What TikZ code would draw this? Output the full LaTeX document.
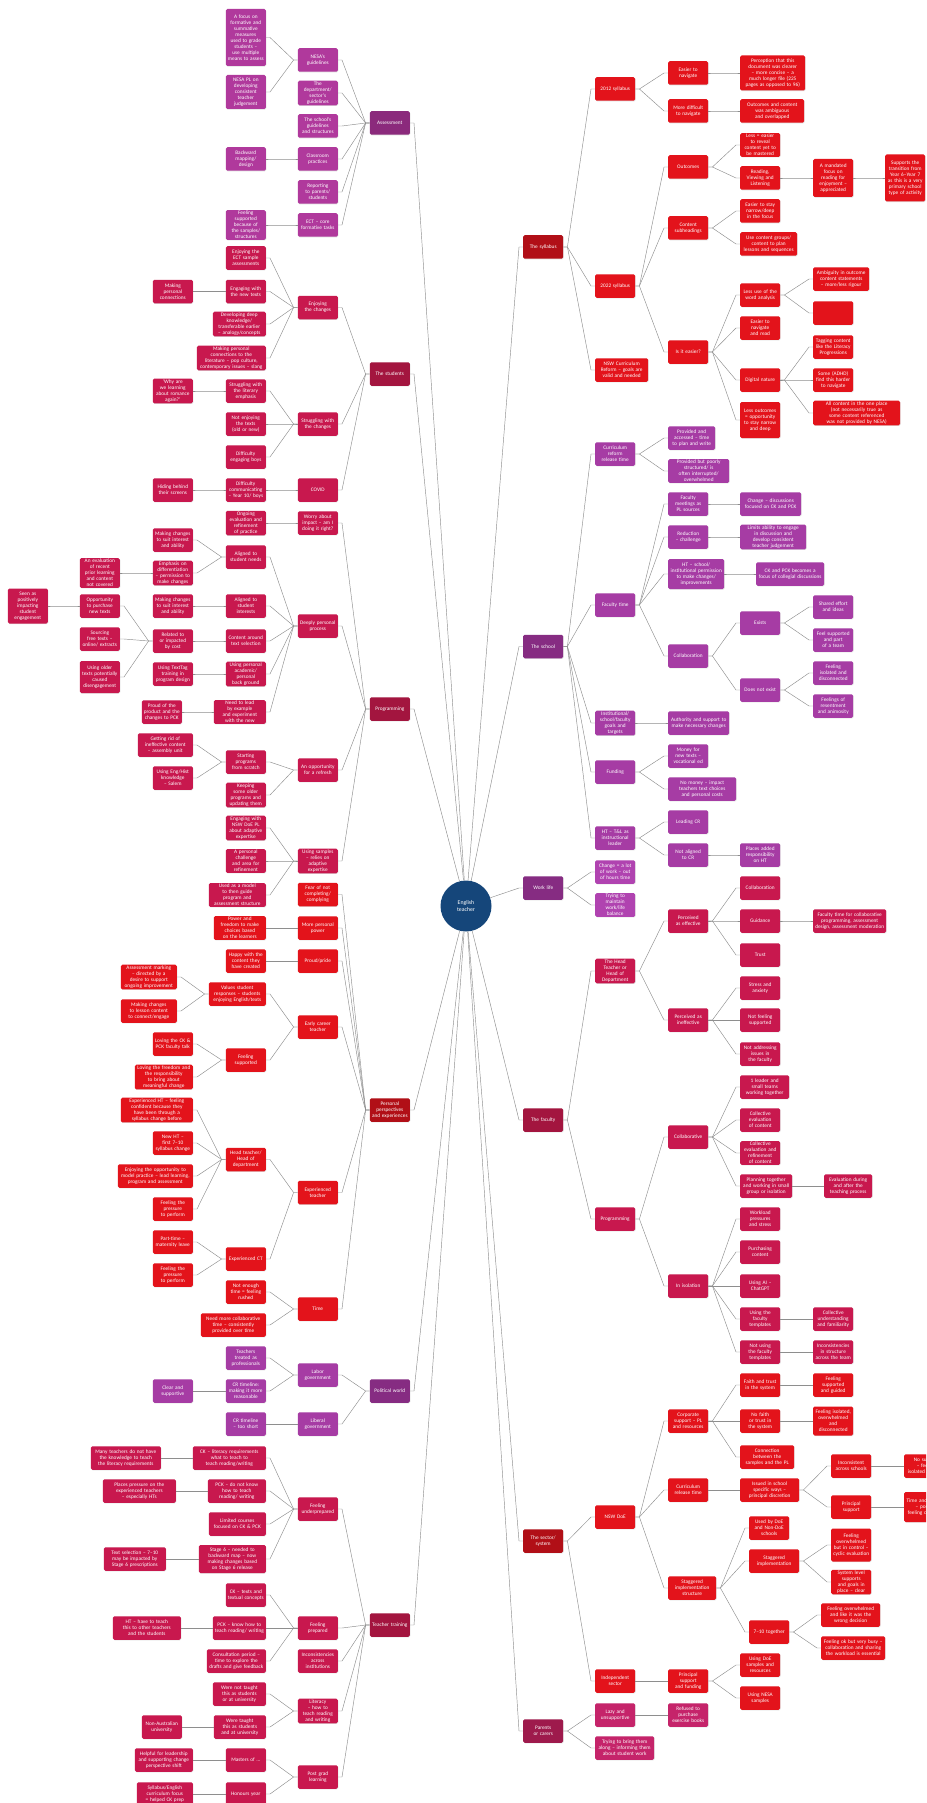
\documentclass[tikz,border=0pt]{standalone}
\usepackage{fontspec}
\setmainfont{Carlito}
\usetikzlibrary{shadows}
\hyphenpenalty=10000
\exhyphenpenalty=10000

\definecolor{navy}{HTML}{15467A}
\definecolor{linkgray}{HTML}{8E8E8E}
\definecolor{redH}{HTML}{B10F17}
\definecolor{redB}{HTML}{E3131B}
\definecolor{crimH}{HTML}{A3153F}
\definecolor{crimB}{HTML}{C8184E}
\definecolor{magH}{HTML}{8B2A7C}
\definecolor{magB}{HTML}{B0399C}
\definecolor{purH}{HTML}{862C82}
\definecolor{purB}{HTML}{A63CA4}
\definecolor{lilB}{HTML}{B043B0}
\definecolor{pinkH}{HTML}{9E1A4C}
\definecolor{pinkB}{HTML}{C5246A}

\tikzset{
  box/.style={rectangle, rounded corners=1.5pt, text=white, align=center,
    font=\fontsize{5.3}{6}\selectfont, inner xsep=2pt, inner ysep=1pt,
    text width=36pt, minimum height=23.5pt,
    drop shadow={shadow xshift=0.5pt, shadow yshift=-0.6pt, opacity=0.25}},
  lbox/.style={box, anchor=east},
  rbox/.style={box, anchor=west},
  bw/.code={\pgfmathsetmacro\boxtw{#1-4}\edef\tmp{\noexpand\tikzset{text width=\boxtw pt}}\tmp},
  bh/.style={minimum height=#1pt},
  link/.style={draw=linkgray, line width=0.45pt},
}

\begin{document}
\begin{tikzpicture}[x=1pt, y=-1pt]
  \useasboundingbox (0,0) rectangle (926,1803);
  \fill[white] (0,0) rectangle (926,1803);
  \clip (0,0) rectangle (926,1803);

  % Centre
  \node[circle, fill=navy, minimum size=51pt, inner sep=0pt, text=white, align=center,
    font=\fontsize{5.8}{7}\selectfont] (eng) at (466,906) {English\\teacher};

  % ---------------- left side ----------------
  % Assessment
  \begin{scope}[every node/.append style={fill=magB}]
  \node[lbox, fill=magH] (asm) at (410,123) {Assessment};
  \node[lbox] (asmA) at (338,60) {NESA's guidelines};
  \node[lbox] (asmB) at (338,93) {The department/ sector's guidelines};
  \node[lbox] (asmC) at (338,126) {The school's guidelines and structures};
  \node[lbox] (asmD) at (338,159) {Classroom practices};
  \node[lbox] (asmE) at (338,192) {Reporting to parents/ students};
  \node[lbox] (asmF) at (338,225) {ECT -- core formative tasks};
  \node[lbox, bh=57] (asmA1) at (266,37.5) {A focus on formative and summative measures used to grade students -- use multiple means to assess};
  \node[lbox, bh=34] (asmA2) at (266,92) {NESA PL on developing consistent teacher judgement};
  \node[lbox] (asmD1) at (266,159) {Backward mapping/ design};
  \node[lbox] (asmF1) at (266,225) {Feeling supported because of the samples/ structures};
  \end{scope}

  % The students
  \begin{scope}[every node/.append style={fill=crimB}]
  \node[lbox, fill=crimH] (stu) at (410,374) {The students};
  \node[lbox] (stuA) at (338,307.5) {Enjoying the changes};
  \node[lbox] (stuB) at (338,424) {Struggling with the changes};
  \node[lbox] (stuC) at (338,490) {COVID};
  \node[lbox] (stuA1) at (266,258) {Enjoying the ECT sample assessments};
  \node[lbox] (stuA2) at (266,291.5) {Engaging with the new texts};
  \node[lbox, bw=53] (stuA3) at (266,324) {Developing deep knowledge/ transferable earlier -- analogy/concepts};
  \node[lbox, bw=69] (stuA4) at (266,358) {Making personal connections to the literature -- pop culture, contemporary issues -- slang};
  \node[lbox] (stuA2a) at (193,291.5) {Making personal connections};
  \node[lbox] (stuB1) at (266,391) {Struggling with the literary emphasis};
  \node[lbox] (stuB2) at (266,424) {Not enjoying the texts (old or new)};
  \node[lbox] (stuB3) at (266,457) {Difficulty engaging boys};
  \node[lbox] (stuB1a) at (193,391) {`Why are we learning about romance again?'};
  \node[lbox] (stuC1) at (266,490) {Difficulty communicating -- Year 10/ boys};
  \node[lbox] (stuC1a) at (193,490) {Hiding behind their screens};
  \end{scope}

  % Programming
  \begin{scope}[every node/.append style={fill=crimB}]
  \node[lbox, fill=crimH] (prg) at (410,709) {Programming};
  \node[lbox] (prgW) at (338,523) {Worry about impact -- am I doing it right?};
  \node[lbox] (prgA) at (338,626) {Deeply personal process};
  \node[lbox] (prgB) at (338,770) {An opportunity for a refresh};
  \node[lbox] (prgC) at (338,861) {Using samples -- relies on adaptive expertise};
  \node[lbox] (prgW1) at (266,523) {Ongoing evaluation and refinement of practice};
  \node[lbox] (prgA1) at (266,557) {Aligned to student needs};
  \node[lbox] (prgA2) at (266,606) {Aligned to student interests};
  \node[lbox] (prgA3) at (266,641) {Content around text selection};
  \node[lbox] (prgA4) at (266,674) {Using personal academic/ personal back ground};
  \node[lbox, bw=52] (prgA5) at (266,712) {Need to lead by example and experiment with the new};
  \node[lbox] (prgA1a) at (193,540) {Making changes to suit interest and ability};
  \node[lbox] (prgA1b) at (193,573) {Emphasis on differentiation -- permission to make changes};
  \node[lbox] (prgA1b1) at (120,573) {An evaluation of recent prior learning and content not covered};
  \node[lbox] (prgA2a) at (193,606) {Making changes to suit interest and ability};
  \node[lbox] (prgA3a) at (193,641) {Related to or impacted by cost};
  \node[lbox] (prgA3a1) at (120,606) {Opportunity to purchase new texts};
  \node[lbox] (prgA3a2) at (120,639) {Sourcing free texts -- online/ extracts};
  \node[lbox, bh=32] (prgA3a3) at (120,677) {Using older texts potentially caused disengagement};
  \node[lbox, bh=35] (prgA3a1a) at (48,606) {Seen as positively impacting student engagement};
  \node[lbox] (prgA4a) at (193,674) {Using TextTag training in program design};
  \node[lbox] (prgA5a) at (182,712) {Proud of the product and the changes to PCK};
  \node[lbox] (prgB1) at (266,762) {Starting programs from scratch};
  \node[lbox] (prgB2) at (266,795) {Keeping some older programs and updating them};
  \node[lbox, bw=55] (prgB1a) at (193,745) {Getting rid of ineffective content -- assembly unit};
  \node[lbox] (prgB1b) at (193,778) {Using Eng/Hist knowledge -- Salem};
  \node[lbox] (prgC1) at (266,828) {Engaging with NSW DoE PL about adaptive expertise};
  \node[lbox] (prgC2) at (266,861) {A personal challenge and area for refinement};
  \node[lbox, bw=57] (prgC3) at (266,895) {Used as a model to then guide program and assessment structure};
  \end{scope}

  % Personal perspectives and experiences
  \begin{scope}[every node/.append style={fill=redB}]
  \node[lbox, fill=redH] (per) at (410,1110) {Personal perspectives and experiences};
  \node[lbox] (perA) at (338,894.5) {Fear of not completing/ complying};
  \node[lbox] (perB) at (338,928) {More personal power};
  \node[lbox] (perC) at (338,961) {Proud/pride};
  \node[lbox] (perD) at (338,1027) {Early career teacher};
  \node[lbox] (perE) at (338,1192.5) {Experienced teacher};
  \node[lbox] (perF) at (338,1309) {Time};
  \node[lbox, bw=52] (perB1) at (266,928) {Power and freedom to make choices based on the learners};
  \node[lbox] (perC1) at (266,961) {Happy with the content they have created};
  \node[lbox, bw=57] (perD1) at (266,994) {Values student responses -- students enjoying English/texts};
  \node[lbox] (perD2) at (266,1060) {Feeling supported};
  \node[lbox, bw=56] (perD1a) at (177,977) {Assessment marking -- directed by a desire to support ongoing improvement};
  \node[lbox, bw=56] (perD1b) at (177,1011) {Making changes to lesson content to connect/engage};
  \node[lbox] (perD2a) at (193,1044) {Loving the CK \& PCK faculty talk};
  \node[lbox, bw=58] (perD2b) at (193,1077) {Loving the freedom and the responsibility to bring about meaningful change};
  \node[lbox] (perE1) at (266,1159.5) {Head teacher/ Head of department};
  \node[lbox] (perE2) at (266,1259) {Experienced CT};
  \node[lbox, bw=72] (perE1a) at (193,1110) {Experienced HT -- feeling confident because they have been through a syllabus change before};
  \node[lbox] (perE1b) at (193,1143) {New HT -- first 7--10 syllabus change};
  \node[lbox, bw=75] (perE1c) at (193,1176) {Enjoying the opportunity to model practice -- lead learning, program and assessment};
  \node[lbox] (perE1d) at (193,1209) {Feeling the pressure to perform};
  \node[lbox] (perE2a) at (193,1242) {Part-time -- maternity leave};
  \node[lbox] (perE2b) at (193,1275) {Feeling the pressure to perform};
  \node[lbox] (perF1) at (266,1292) {Not enough time = feeling rushed};
  \node[lbox, bw=65] (perF2) at (266,1325) {Need more collaborative time -- consistently provided over time};
  \end{scope}

  % Political world
  \begin{scope}[every node/.append style={fill=purB}]
  \node[lbox, fill=purH] (pol) at (410,1391) {Political world};
  \node[lbox] (polA) at (338,1375) {Labor government};
  \node[lbox] (polB) at (338,1424) {Liberal government};
  \node[lbox] (polA1) at (266,1358) {Teachers treated as professionals};
  \node[lbox] (polA2) at (266,1391) {CR timeline: making it more reasonable};
  \node[lbox] (polA2a) at (193,1391) {Clear and supportive};
  \node[lbox] (polB1) at (266,1424) {CR timeline -- too short};
  \end{scope}

  % Teacher training
  \begin{scope}[every node/.append style={fill=crimB}]
  \node[lbox, fill=crimH] (trn) at (410,1625) {Teacher training};
  \node[lbox] (trnA) at (338,1509) {Feeling underprepared};
  \node[lbox] (trnB) at (338,1628) {Feeling prepared};
  \node[lbox] (trnC) at (338,1661) {Inconsistencies across institutions};
  \node[lbox] (trnD) at (338,1711) {Literacy -- how to teach reading and writing};
  \node[lbox] (trnE) at (338,1777) {Post grad learning};
  \node[lbox, bw=73] (trnA1) at (266,1458) {CK -- literacy requirements what to teach to teach reading/writing};
  \node[lbox, bw=58] (trnA2) at (266,1491) {PCK -- do not know how to teach reading/ writing};
  \node[lbox, bw=57] (trnA3) at (266,1524) {Limited courses focused on CK \& PCK};
  \node[lbox, bw=67, bh=28] (trnA4) at (266,1559) {Stage 6 -- needed to backward map -- now making changes based on Stage 6 release};
  \node[lbox, bw=70] (trnA1a) at (161,1458) {Many teachers do not have the knowledge to teach the literacy requirements};
  \node[lbox, bw=73] (trnA2a) at (176,1491) {Places pressure on the experienced teachers -- especially HTs};
  \node[lbox, bw=62] (trnA4a) at (166,1559) {Text selection -- 7--10 may be impacted by Stage 6 prescriptions};
  \node[lbox] (trnB1) at (266,1595) {CK -- texts and textual concepts};
  \node[lbox, bw=53] (trnB2) at (266,1628) {PCK -- know how to teach reading/ writing};
  \node[lbox, bw=59] (trnB3) at (266,1661) {Consultation period -- time to explore the drafts and give feedback};
  \node[lbox, bw=68] (trnB2a) at (181,1628) {HT -- have to teach this to other teachers and the students};
  \node[lbox, bw=53] (trnD1) at (266,1694) {Were not taught this as students or at university};
  \node[lbox, bw=52] (trnD2) at (266,1727) {Were taught this as students and at university};
  \node[lbox] (trnD2a) at (182,1727) {Non-Australian university};
  \node[lbox] (trnE1) at (266,1760) {Masters of \dots};
  \node[lbox] (trnE2) at (266,1794) {Honours year};
  \node[lbox, bw=58] (trnE1a) at (193,1760) {Helpful for leadership and supporting change perspective shift};
  \node[lbox, bw=56] (trnE2a) at (193,1794) {Syllabus/English curriculum focus = helped CK prep};
  \end{scope}

  % ---------------- right side ----------------
  % The syllabus
  \begin{scope}[every node/.append style={fill=redB}]
  \node[rbox, fill=redH] (syl) at (523,247) {The syllabus};
  \node[rbox] (sylA) at (595,89) {2012 syllabus};
  \node[rbox] (sylB) at (595,286) {2022 syllabus};
  \node[rbox, bw=53] (sylC) at (595,370) {NSW Curriculum Reform -- goals are valid and needed};
  \node[rbox] (sylA1) at (668,73) {Easier to navigate};
  \node[rbox] (sylA2) at (668,111) {More difficult to navigate};
  \node[rbox, bw=65, bh=35] (sylA1a) at (740,73) {Perception that this document was clearer -- more concise -- a much longer file (225 pages as opposed to 96)};
  \node[rbox, bw=64] (sylA2a) at (740,111) {Outcomes and content was ambiguous and overlapped};
  \node[rbox] (sylB1) at (668,167) {Outcomes};
  \node[rbox] (sylB2) at (668,228) {Content subheadings};
  \node[rbox] (sylB3) at (668,352) {Is it easier?};
  \node[rbox] (sylB1a) at (740,145) {Less = easier to reveal content yet to be mastered};
  \node[rbox] (sylB1b) at (740,178) {Reading, Viewing and Listening};
  \node[rbox, bh=38] (sylB1b1) at (813,178) {A mandated focus on reading for enjoyment -- appreciated};
  \node[rbox, bh=47] (sylB1b2) at (885,178) {Supports the transition from Year 6--Year 7 as this is a very primary school type of activity};
  \node[rbox] (sylB2a) at (740,211) {Easier to stay narrow/deep in the focus};
  \node[rbox, bw=57] (sylB2b) at (740,244) {Use content groups/ content to plan lessons and sequences};
  \node[rbox] (sylB3a) at (740,295) {Less use of the word analysis};
  \node[rbox] (sylB3b) at (740,328) {Easier to navigate and read};
  \node[rbox] (sylB3c) at (740,380) {Digital nature};
  \node[rbox, bh=36] (sylB3d) at (740,420) {Less outcomes = opportunity to stay narrow and deep};
  \node[rbox, bw=56] (sylB3a1) at (813,279) {Ambiguity in outcome content statements -- more/less rigour};
  \node[rbox] (sylB3a2) at (813,313) {};
  \node[rbox] (sylB3c1) at (813,347) {Tagging content like the Literacy Progressions};
  \node[rbox] (sylB3c2) at (813,380) {Some (ADHD) find this harder to navigate};
  \node[rbox, bw=87] (sylB3c3) at (813,413) {All content in the one place (not necessarily true as some content referenced was not provided by NESA)};
  \end{scope}

  % The school
  \begin{scope}[every node/.append style={fill=purB}]
  \node[rbox, fill=purH] (sch) at (523,646.5) {The school};
  \node[rbox] (schA) at (595,454) {Curriculum reform release time};
  \node[rbox] (schB) at (595,605) {Faculty time};
  \node[rbox] (schC) at (595,723) {Institutional/ school/faculty goals and targets};
  \node[rbox] (schD) at (595,772) {Funding};
  \node[rbox] (schE) at (595,838) {HT -- T\&L as instructional leader};
  \node[rbox, bw=47] (schA1) at (668,438) {Provided and accessed -- time to plan and write};
  \node[rbox, bw=61] (schA2) at (668,471) {Provided but poorly structured/ is often interrupted/ overwhelmed};
  \node[rbox] (schB1) at (668,504) {Faculty meetings as PL sources};
  \node[rbox] (schB2) at (668,537) {Reduction -- challenge};
  \node[rbox, bw=56, bh=30] (schB3) at (668,574) {HT -- school/ institutional permission to make changes/ improvements};
  \node[rbox] (schB4) at (668,656) {Collaboration};
  \node[rbox, bw=61] (schB1a) at (740,504) {Change -- discussions focused on CK and PCK};
  \node[rbox, bw=66] (schB2a) at (740,537) {Limits ability to engage in discussion and develop consistent teacher judgement};
  \node[rbox, bw=68] (schB3a) at (756,574) {CK and PCK becomes a focus of collegial discussions};
  \node[rbox] (schB4a) at (740,623) {Exists};
  \node[rbox] (schB4b) at (740,690) {Does not exist};
  \node[rbox] (schB4a1) at (813,607) {Shared effort and ideas};
  \node[rbox] (schB4a2) at (813,640) {Feel supported and part of a team};
  \node[rbox] (schB4b1) at (813,673) {Feeling isolated and disconnected};
  \node[rbox] (schB4b2) at (813,706) {Feelings of resentment and animosity};
  \node[rbox, bw=61] (schC1) at (668,723) {Authority and support to make necessary changes};
  \node[rbox] (schD1) at (668,756) {Money for new texts -- vocational ed};
  \node[rbox, bw=68] (schD2) at (668,789) {No money -- impact teachers text choices and personal costs};
  \node[rbox] (schE1) at (668,822) {Leading CR};
  \node[rbox] (schE2) at (668,855) {Not aligned to CR};
  \node[rbox] (schE2a) at (740,855) {Places added responsibility on HT};
  \end{scope}

  % Work life
  \node[rbox, fill=purH] (wrk) at (523,888) {Work life};
  \node[rbox, fill=lilB] (wrkA) at (595,872) {Change = a lot of work -- out of hours time};
  \node[rbox, fill=lilB] (wrkB) at (595,905) {Trying to maintain work/life balance};

  % The faculty
  \begin{scope}[every node/.append style={fill=crimB}]
  \node[rbox, fill=crimH] (fac) at (523,1120) {The faculty};
  \node[rbox] (facA) at (595,971) {The Head Teacher or Head of Department};
  \node[rbox] (facB) at (595,1219) {Programming};
  \node[rbox] (facA1) at (668,921) {Perceived as effective};
  \node[rbox] (facA2) at (668,1020) {Perceived as ineffective};
  \node[rbox] (facA1a) at (740,888) {Collaboration};
  \node[rbox] (facA1b) at (740,921) {Guidance};
  \node[rbox] (facA1c) at (740,955) {Trust};
  \node[rbox, bw=73] (facA1b1) at (813,921) {Faculty time for collaborative programming, assessment design, assessment moderation};
  \node[rbox] (facA2a) at (740,988) {Stress and anxiety};
  \node[rbox] (facA2b) at (740,1020) {Not feeling supported};
  \node[rbox] (facA2c) at (740,1054) {Not addressing issues in the faculty};
  \node[rbox] (facB1) at (668,1137) {Collaborative};
  \node[rbox] (facB2) at (668,1286) {In isolation};
  \node[rbox, bw=49] (facB1a) at (740,1087) {1 leader and small teams working together};
  \node[rbox] (facB1b) at (740,1120) {Collective evaluation of content};
  \node[rbox] (facB1c) at (740,1153) {Collective evaluation and refinement of content};
  \node[rbox, bw=52] (facB1d) at (740,1186) {Planning together and working in small group or isolation};
  \node[rbox, bw=48] (facB1d1) at (824,1186) {Evaluation during and after the teaching process};
  \node[rbox] (facB2a) at (740,1219) {Workload pressures and stress};
  \node[rbox] (facB2b) at (740,1252) {Purchasing content};
  \node[rbox] (facB2c) at (740,1286) {Using AI -- ChatGPT};
  \node[rbox] (facB2d) at (740,1319) {Using the faculty templates};
  \node[rbox] (facB2e) at (740,1352) {Not using the faculty templates};
  \node[rbox] (facB2d1) at (813,1319) {Collective understanding and familiarity};
  \node[rbox] (facB2e1) at (813,1352) {Inconsistencies in structure across the team};
  \end{scope}

  % The sector/ system
  \begin{scope}[every node/.append style={fill=redB}]
  \node[rbox, fill=redH] (sec) at (523,1541) {The sector/ system};
  \node[rbox] (secA) at (595,1517) {NSW DoE};
  \node[rbox] (secB) at (595,1681) {Independent sector};
  \node[rbox] (secA1) at (668,1421) {Corporate support -- PL and resources};
  \node[rbox] (secA2) at (668,1490) {Curriculum release time};
  \node[rbox, bw=48] (secA3) at (668,1588) {Staggered implementation structure};
  \node[rbox] (secA1a) at (740,1385) {Faith and trust in the system};
  \node[rbox] (secA1b) at (740,1421) {No faith or trust in the system};
  \node[rbox, bw=54] (secA1c) at (740,1457) {Connection between the samples and the PL};
  \node[rbox] (secA1a1) at (813,1385) {Feeling supported and guided};
  \node[rbox, bh=29] (secA1b1) at (813,1421) {Feeling isolated, overwhelmed and disconnected};
  \node[rbox, bw=59] (secA2a) at (740,1490) {Issued in school specific ways -- principal discretion};
  \node[rbox] (secA2a1) at (831,1466) {Inconsistent across schools};
  \node[rbox] (secA2a2) at (831,1507) {Principal support};
  \node[rbox, bw=44] (secA2a1a) at (904,1466) {No support -- feeling isolated and lost};
  \node[rbox, bw=44, bh=30] (secA2a2a) at (904,1507) {Time and support -- positive feeling confident};
  \node[rbox] (secA3a) at (749,1528) {Used by DoE and Non-DoE schools};
  \node[rbox, bw=50] (secA3b) at (749,1561) {Staggered implementation};
  \node[rbox] (secA3c) at (749,1632) {7--10 together};
  \node[rbox, bh=33] (secA3b1) at (831,1545) {Feeling overwhelmed but in control -- cyclic evaluation};
  \node[rbox] (secA3b2) at (831,1582) {System level supports and goals in place -- clear};
  \node[rbox, bw=59] (secA3c1) at (821,1615) {Feeling overwhelmed and like it was the wrong decision};
  \node[rbox, bw=64] (secA3c2) at (821,1648) {Feeling ok but very busy -- collaboration and sharing the workload is essential};
  \node[rbox] (secB1) at (668,1681) {Principal support and funding};
  \node[rbox] (secB1a) at (740,1665) {Using DoE samples and resources};
  \node[rbox] (secB1b) at (740,1698) {Using NESA samples};
  \end{scope}

  % Parents or carers
  \begin{scope}[every node/.append style={fill=pinkB}]
  \node[rbox, fill=pinkH] (par) at (523,1731) {Parents or carers};
  \node[rbox] (parA) at (595,1715) {Lazy and unsupportive};
  \node[rbox, bw=59] (parB) at (595,1748) {Trying to bring them along -- informing them about student work};
  \node[rbox] (parA1) at (668,1715) {Refused to purchase exercise books};
  \end{scope}

  % ---------------- connectors ----------------
  % centre to main themes
  \foreach \m in {asm,stu,prg,per,pol,trn}
    \draw[link] (eng) -- ([xshift=4pt]\m.east) -- (\m.east);
  \foreach \m in {syl,sch,wrk,fac,sec,par}
    \draw[link] (eng) -- ([xshift=-4pt]\m.west) -- (\m.west);

  % left branches
  \foreach \p/\c in {asm/asmA,asm/asmB,asm/asmC,asm/asmD,asm/asmE,asm/asmF,
      asmA/asmA1,asmA/asmA2,asmD/asmD1,asmF/asmF1,
      stu/stuA,stu/stuB,stu/stuC,stuA/stuA1,stuA/stuA2,stuA/stuA3,stuA/stuA4,
      stuA2/stuA2a,stuB/stuB1,stuB/stuB2,stuB/stuB3,stuB1/stuB1a,stuC/stuC1,stuC1/stuC1a,
      prg/prgW,prg/prgA,prg/prgB,prg/prgC,prgW/prgW1,
      prgA/prgA1,prgA/prgA2,prgA/prgA3,prgA/prgA4,prgA/prgA5,
      prgA1/prgA1a,prgA1/prgA1b,prgA1b/prgA1b1,prgA2/prgA2a,prgA3/prgA3a,
      prgA3a/prgA3a1,prgA3a/prgA3a2,prgA3a/prgA3a3,prgA3a1/prgA3a1a,
      prgA4/prgA4a,prgA5/prgA5a,prgB/prgB1,prgB/prgB2,prgB1/prgB1a,prgB1/prgB1b,
      prgC/prgC1,prgC/prgC2,prgC/prgC3,
      per/perA,per/perB,per/perC,per/perD,per/perE,per/perF,
      perB/perB1,perC/perC1,perD/perD1,perD/perD2,perD1/perD1a,perD1/perD1b,
      perD2/perD2a,perD2/perD2b,perE/perE1,perE/perE2,
      perE1/perE1a,perE1/perE1b,perE1/perE1c,perE1/perE1d,perE2/perE2a,perE2/perE2b,
      perF/perF1,perF/perF2,
      pol/polA,pol/polB,polA/polA1,polA/polA2,polA2/polA2a,polB/polB1,
      trn/trnA,trn/trnB,trn/trnC,trn/trnD,trn/trnE,
      trnA/trnA1,trnA/trnA2,trnA/trnA3,trnA/trnA4,trnA1/trnA1a,trnA2/trnA2a,trnA4/trnA4a,
      trnB/trnB1,trnB/trnB2,trnB/trnB3,trnB2/trnB2a,trnD/trnD1,trnD/trnD2,trnD2/trnD2a,
      trnE/trnE1,trnE/trnE2,trnE1/trnE1a,trnE2/trnE2a}
    \draw[link] (\p.west) -- ++(-4,0) -- ([xshift=4pt]\c.east) -- (\c.east);

  % right branches
  \foreach \p/\c in {syl/sylA,syl/sylB,syl/sylC,sylA/sylA1,sylA/sylA2,sylA1/sylA1a,sylA2/sylA2a,
      sylB/sylB1,sylB/sylB2,sylB/sylB3,sylB1/sylB1a,sylB1/sylB1b,sylB1b/sylB1b1,sylB1b1/sylB1b2,
      sylB2/sylB2a,sylB2/sylB2b,sylB3/sylB3a,sylB3/sylB3b,sylB3/sylB3c,sylB3/sylB3d,
      sylB3a/sylB3a1,sylB3a/sylB3a2,sylB3c/sylB3c1,sylB3c/sylB3c2,sylB3c/sylB3c3,
      sch/schA,sch/schB,sch/schC,sch/schD,sch/schE,schA/schA1,schA/schA2,
      schB/schB1,schB/schB2,schB/schB3,schB/schB4,schB1/schB1a,schB2/schB2a,schB3/schB3a,
      schB4/schB4a,schB4/schB4b,schB4a/schB4a1,schB4a/schB4a2,schB4b/schB4b1,schB4b/schB4b2,
      schC/schC1,schD/schD1,schD/schD2,schE/schE1,schE/schE2,schE2/schE2a,
      wrk/wrkA,wrk/wrkB,
      fac/facA,fac/facB,facA/facA1,facA/facA2,facA1/facA1a,facA1/facA1b,facA1/facA1c,
      facA1b/facA1b1,facA2/facA2a,facA2/facA2b,facA2/facA2c,
      facB/facB1,facB/facB2,facB1/facB1a,facB1/facB1b,facB1/facB1c,facB1/facB1d,facB1d/facB1d1,
      facB2/facB2a,facB2/facB2b,facB2/facB2c,facB2/facB2d,facB2/facB2e,
      facB2d/facB2d1,facB2e/facB2e1,
      sec/secA,sec/secB,secA/secA1,secA/secA2,secA/secA3,
      secA1/secA1a,secA1/secA1b,secA1/secA1c,secA1a/secA1a1,secA1b/secA1b1,
      secA2/secA2a,secA2a/secA2a1,secA2a/secA2a2,secA2a1/secA2a1a,secA2a2/secA2a2a,
      secA3/secA3a,secA3/secA3b,secA3/secA3c,secA3b/secA3b1,secA3b/secA3b2,
      secA3c/secA3c1,secA3c/secA3c2,secB/secB1,secB1/secB1a,secB1/secB1b,
      par/parA,par/parB,parA/parA1}
    \draw[link] (\p.east) -- ++(4,0) -- ([xshift=-4pt]\c.west) -- (\c.west);
\end{tikzpicture}
\end{document}
